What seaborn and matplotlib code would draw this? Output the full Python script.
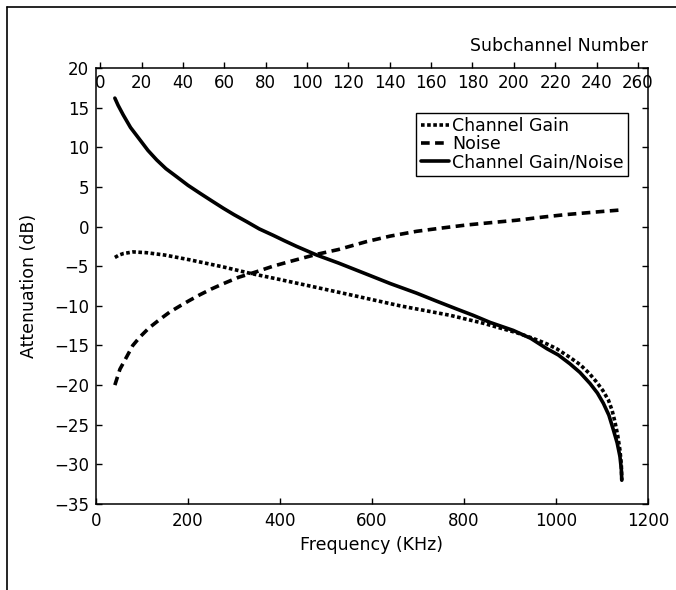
import numpy as np
import pandas as pd
import matplotlib
matplotlib.use("Agg")
import matplotlib.pyplot as plt
from matplotlib.lines import Line2D
import seaborn as sns

# ---- data ----
freq_gain = [41, 50, 60, 81, 110, 150, 204, 277, 335, 393, 465, 552, 661, 770, 842,
             915, 950, 980, 1001, 1030, 1052, 1072, 1088, 1102, 1114, 1122, 1128,
             1134, 1139, 1142, 1143]
gain_db = [-3.9, -3.6, -3.4, -3.2, -3.3, -3.6, -4.2, -5.1, -5.9, -6.6, -7.5, -8.6,
           -10.0, -11.2, -12.2, -13.4, -14.1, -14.8, -15.4, -16.5, -17.4, -18.5,
           -19.6, -20.7, -21.9, -23.2, -24.6, -26.3, -28.2, -30.0, -32.0]

freq_noise = [41, 52, 67, 80, 96, 115, 139, 160, 183, 204, 226, 250, 277, 310, 349,
              385, 422, 480, 527, 588, 640, 697, 750, 806, 860, 915, 972, 1020, 1060,
              1100, 1143]
noise_db = [-20.0, -18.0, -16.4, -15.0, -13.9, -12.8, -11.7, -10.8, -10.0, -9.3, -8.6,
            -7.9, -7.2, -6.4, -5.7, -5.0, -4.4, -3.5, -2.9, -1.9, -1.2, -0.6, -0.2,
            0.2, 0.5, 0.8, 1.2, 1.5, 1.7, 1.9, 2.1]

freq_ratio = [41, 48, 59, 75, 96, 113, 132, 152, 175, 200, 226, 250, 277, 300, 328,
              355, 385, 410, 436, 480, 527, 588, 640, 697, 740, 784, 820, 857, 907,
              945, 980, 1005, 1030, 1052, 1074, 1090, 1103, 1115, 1125, 1133, 1139,
              1142, 1143]
ratio_db = [16.2, 15.3, 14.1, 12.5, 10.9, 9.6, 8.4, 7.3, 6.3, 5.2, 4.2, 3.3, 2.3, 1.5,
            0.6, -0.3, -1.1, -1.8, -2.5, -3.6, -4.6, -6.0, -7.2, -8.4, -9.4, -10.4,
            -11.2, -12.1, -13.1, -14.1, -15.4, -16.2, -17.3, -18.4, -19.8, -21.0,
            -22.3, -23.8, -25.7, -27.3, -29.0, -30.6, -32.0]

series_labels = ["Channel Gain", "Noise", "Channel Gain/Noise"]
x_ticks = [0, 200, 400, 600, 800, 1000, 1200]
y_ticks = [-35, -30, -25, -20, -15, -10, -5, 0, 5, 10, 15, 20]
sub_ticks = list(range(0, 261, 20))

sns.set_style("white")
plt.rcParams["font.family"] = ["DejaVu Sans"]
plt.rcParams["axes.unicode_minus"] = True
plt.rcParams["text.color"] = "black"
plt.rcParams["axes.labelcolor"] = "black"
plt.rcParams["xtick.color"] = "black"
plt.rcParams["ytick.color"] = "black"

fig = plt.figure(figsize=(6.76, 5.9), dpi=100)
ax = fig.add_axes([96 / 676, 1 - 504 / 590, 552 / 676, 436 / 590])

df_g = pd.DataFrame({"f": freq_gain, "v": gain_db})
df_n = pd.DataFrame({"f": freq_noise, "v": noise_db})
df_r = pd.DataFrame({"f": freq_ratio, "v": ratio_db})

lw = 2.6
sns.lineplot(data=df_g, x="f", y="v", ax=ax, color="black", lw=lw,
             linestyle=(0, (1.0, 0.7)), label=series_labels[0], sort=False)
sns.lineplot(data=df_n, x="f", y="v", ax=ax, color="black", lw=lw,
             linestyle=(0, (2.4, 1.5)), label=series_labels[1], sort=False)
sns.lineplot(data=df_r, x="f", y="v", ax=ax, color="black", lw=lw,
             linestyle="-", label=series_labels[2], sort=False)

ax.set_xlim(0, 1200)
ax.set_ylim(-35, 20)
ax.set_xticks(x_ticks)
ax.set_yticks(y_ticks)
ax.tick_params(axis="both", direction="in", length=4, width=1, labelsize=12,
               colors="black", right=True, left=True, bottom=True, top=False)
ax.tick_params(axis="x", pad=6)
ax.tick_params(axis="y", pad=5)
for s in ax.spines.values():
    s.set_linewidth(1.1)
    s.set_color("black")
    s.set_visible(True)

ax.set_xlabel("Frequency (KHz)", fontsize=12.5, labelpad=4, color="black")
ax.set_ylabel("Attenuation (dB)", fontsize=12.5, color="black")
ax.yaxis.set_label_coords(-0.105, 0.5)

# top axis: subchannel number
ax2 = ax.twiny()
ax2.set_xlim(-2.1, 264.9)
ax2.set_xticks(sub_ticks)
ax2.tick_params(axis="x", direction="out", length=4, width=1, labelsize=12,
                pad=-21, colors="black")
ax2.set_xlabel("Subchannel Number", fontsize=12.5, loc="right", color="black")
ax2.xaxis.set_label_coords(1.0, 1.04)
for s in ax2.spines.values():
    s.set_visible(False)

leg = ax.legend(loc="upper right", bbox_to_anchor=(0.9638, 0.8968),
                borderaxespad=0, fontsize=12.5, handlelength=1.6,
                handletextpad=0.2, labelspacing=0.0, borderpad=0.25,
                frameon=True, fancybox=False, shadow=False, framealpha=1)
leg.get_frame().set_edgecolor("black")
leg.get_frame().set_linewidth(1.0)
for t in leg.get_texts():
    t.set_color("black")

# scan frame border
fig.add_artist(Line2D([7 / 676, 7 / 676], [0, 1 - 7 / 590], transform=fig.transFigure,
                      color="black", lw=1.2))
fig.add_artist(Line2D([7 / 676, 1], [1 - 7 / 590, 1 - 7 / 590], transform=fig.transFigure,
                      color="black", lw=1.2))

fig.savefig("out.png", dpi=100)
